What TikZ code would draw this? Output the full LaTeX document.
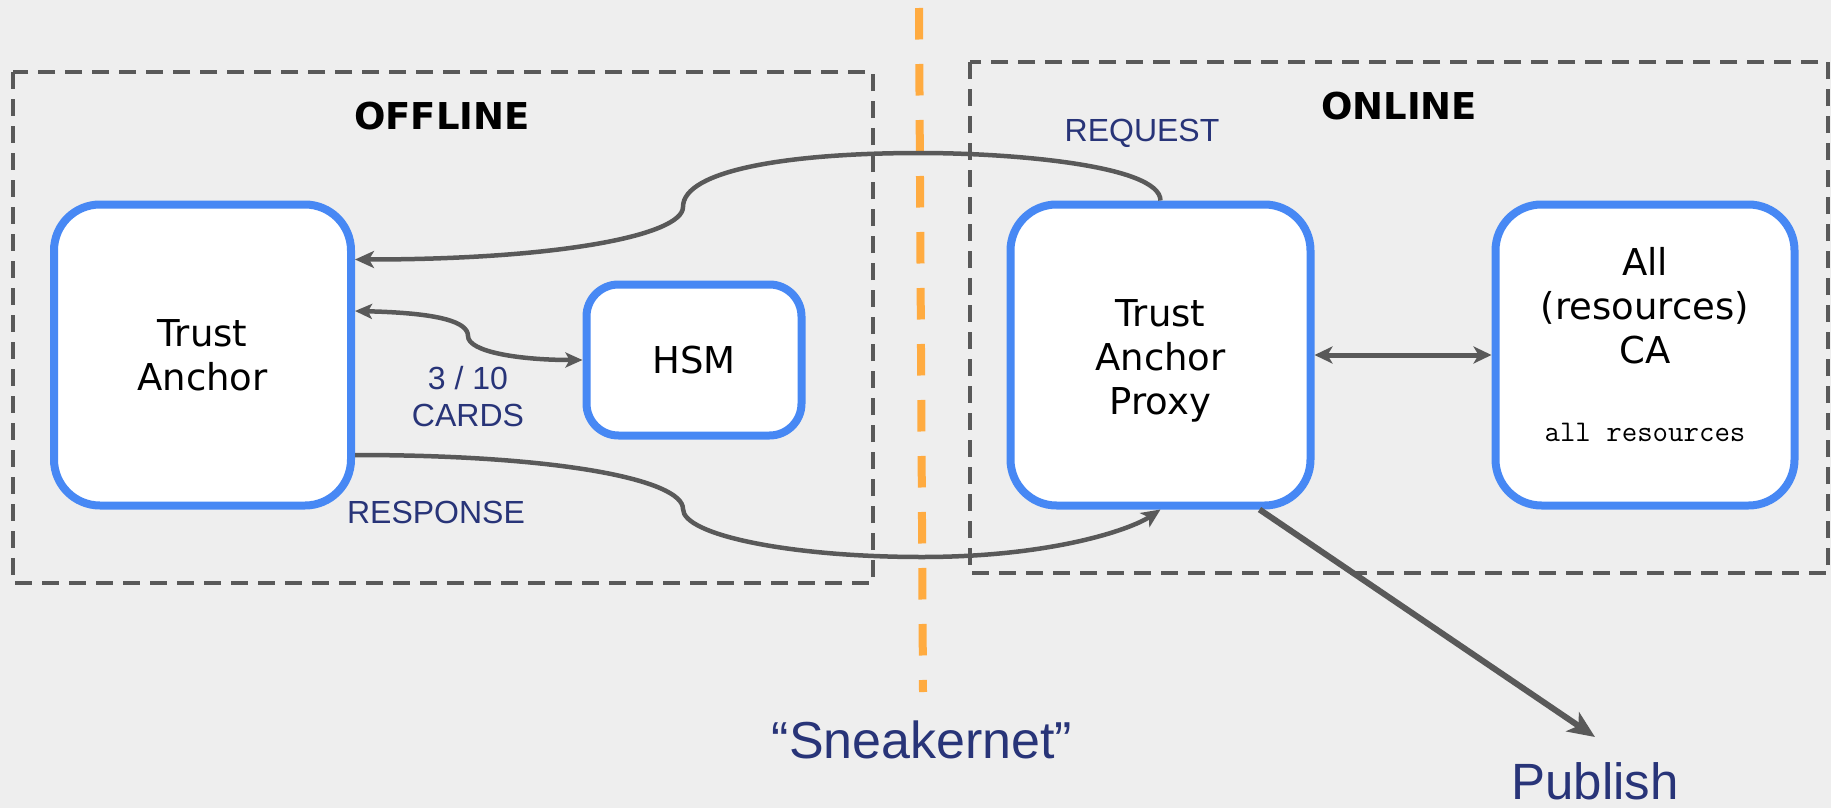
\documentclass[tikz,border=0pt]{standalone}
\usepackage{fontspec}
\setmainfont{Liberation Sans}
\newfontfamily\dvs{DejaVu Sans}
\usetikzlibrary{arrows.meta,calc}
\definecolor{bg}{HTML}{EEEEEE}
\definecolor{boxblue}{HTML}{4788F4}
\definecolor{lineg}{HTML}{595959}
\definecolor{navy}{HTML}{283478}
\definecolor{orng}{HTML}{FFAB40}
\begin{document}
\begin{tikzpicture}[x=1pt,y=-1pt,
  card/.style={draw=boxblue, line width=8pt, fill=white, rounded corners=46pt, align=center,
    font=\dvs\fontsize{37}{44}\selectfont, inner sep=0pt, minimum height=301pt},
  zone/.style={draw=lineg, line width=3.5pt, dash pattern=on 17pt off 10pt},
  tipA/.style={-{Stealth[length=19pt,width=17pt,inset=5pt]}},
  conn/.style={draw=lineg, line width=4.5pt},
  lbl/.style={text=navy, font=\fontsize{32}{37}\selectfont, inner sep=0pt, align=center},
  zonetitle/.style={font=\dvs\bfseries\fontsize{37}{40}\selectfont, inner sep=0pt, anchor=base},
  big/.style={text=navy, font=\fontsize{52}{60}\selectfont, inner sep=0pt, anchor=base}
]
\fill[bg] (0,0) rectangle (1831,808);
\useasboundingbox (0,0) rectangle (1831,808);

% zones
\draw[zone] (13,72) rectangle (873,583);
\draw[zone] (970,62) rectangle (1828,573);
\draw[orng, line width=8pt, dash pattern=on 31.5pt off 24.5pt] (919,8) -- (923,692);

% boxes
\node[card, minimum width=297pt] (ta) at (202.5,355) {Trust\\Anchor};
\node[card, minimum width=215pt, minimum height=151pt, rounded corners=32pt] (hsm) at (694,360) {HSM};
\node[card, minimum width=300pt] (proxy) at (1160.5,355) {\rule{0pt}{38pt}Trust\\Anchor\\Proxy};
\node[card, minimum width=299pt] (ca) at (1645,355) {};
\node[font=\dvs\fontsize{37}{44}\selectfont, align=center, inner sep=0pt] (catext) at ($(ca.center)+(0,-49)$) {All\\(resources)\\CA};
\node[font=\ttfamily\fontsize{30}{34}\selectfont, inner sep=0pt, anchor=base] (caall) at (1645,441) {all resources};

% titles and labels
\node[zonetitle] (offline) at (442,129) {OFFLINE};
\node[zonetitle] (online) at (1399,119) {ONLINE};
\node[lbl, anchor=base] (req) at (1142,141) {REQUEST};
\node[lbl, anchor=base] (resp) at (436,523) {RESPONSE};
\node[lbl] (cards) at (468,397) {3 / 10\\CARDS};
\node[big] (sneak) at (922,758) {“Sneakernet”};
\node[big, font=\fontsize{51}{60}\selectfont] (publish) at (1595,799) {Publish};
\coordinate (pubtip) at (1595,737);

% connectors
\draw[conn, tipA] (proxy.north) .. controls (1160,165) and (1010,153) .. (920,153)
  .. controls (790,153) and (683,170) .. (683,207)
  .. controls (683,235) and (560,259.5) .. ([yshift=95.5pt]ta.east);
\draw[conn, tipA] ([yshift=-100pt]ta.east) .. controls (560,455) and (683,480) .. (683,509)
  .. controls (683,535) and (790,557) .. (922,557)
  .. controls (1050,557) and (1130,530) .. (proxy.south);
\draw[conn, {Stealth[length=17pt,width=15pt,inset=4pt]}-{Stealth[length=17pt,width=15pt,inset=4pt]}]
  ([yshift=44pt]ta.east) .. controls (440,313) and (468,322) .. (468,336)
  .. controls (468,352) and (520,360) .. (hsm.west);
\draw[conn, line width=5pt, {Stealth[length=18pt,width=17pt,inset=5pt]}-{Stealth[length=18pt,width=17pt,inset=5pt]}]
  (proxy.east) -- (ca.west);
\draw[conn, line width=6pt, -{Stealth[length=27pt,width=23pt,inset=7pt]}]
  ([xshift=-55pt]proxy.south east) -- (pubtip);
\end{tikzpicture}
\end{document}
